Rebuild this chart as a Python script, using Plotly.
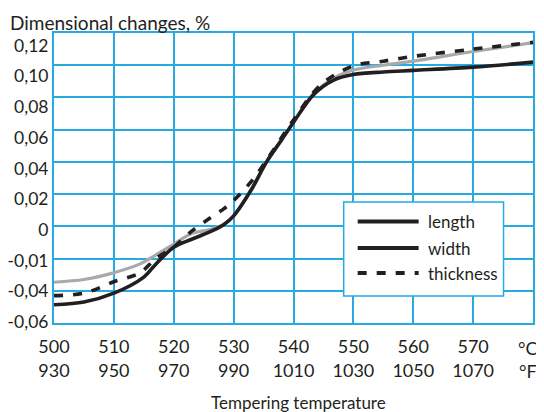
import plotly.graph_objects as go

# Tempering temperature (°C) and dimensional change (%)
length_t = [500, 505, 510, 515, 517, 520, 523, 526, 528.5, 530, 533, 535.5, 538, 540, 543.3, 546.7, 550, 555, 560, 570, 580]
length_v = [-0.0487, -0.0470, -0.0415, -0.0315, -0.0235, -0.0130, -0.0080, -0.0035, 0.0015, 0.0065, 0.0230, 0.0400, 0.0536, 0.0646, 0.0816, 0.0908, 0.0942, 0.0958, 0.0968, 0.0988, 0.1019]

width_t = [500, 505, 509, 514.4, 517, 520, 523, 526, 528.5, 530, 533, 535.5, 538, 540, 543.3, 546.7, 550, 555, 560, 570, 580]
width_v = [-0.0347, -0.0330, -0.0298, -0.0233, -0.0178, -0.0110, -0.0045, -0.0020, 0.0015, 0.0065, 0.0230, 0.0400, 0.0536, 0.0646, 0.0820, 0.0920, 0.0970, 0.1000, 0.1025, 0.1085, 0.1140]

thick_t = [500, 505, 510, 514.4, 517, 520, 523, 526, 528.4, 530, 533, 535.5, 540, 544.5, 550, 555, 560, 570, 580]
thick_v = [-0.0430, -0.0415, -0.0344, -0.0288, -0.0200, -0.0129, -0.0030, 0.0050, 0.0110, 0.0160, 0.0280, 0.0410, 0.0660, 0.0877, 0.0996, 0.1025, 0.1055, 0.1100, 0.1142]

x_ticks = [500, 510, 520, 530, 540, 550, 560, 570, 580]
x_labels = ["500<br>930", "510<br>950", "520<br>970", "530<br>990", "540<br>1010",
            "550<br>1030", "560<br>1050", "570<br>1070", ""]
unit_label = "°C<br>°F"
y_ticks = [0.12, 0.10, 0.08, 0.06, 0.04, 0.02, 0.0, -0.02, -0.04, -0.06]
y_labels = ["0,12", "0,10", "0,08", "0,06", "0,04", "0,02", "0", "-0,01", "-0,04", "-0,06"]

legend_names = ["length", "width", "thickness"]

BLUE = "#27A9E1"
INK = "#231F20"
FONT = "Lato"

fig = go.Figure()
fig.add_trace(go.Scatter(x=width_t, y=width_v, mode="lines", name="width",
                         line=dict(color="#A7A9AC", width=3.2, shape="spline", smoothing=0.9),
                         showlegend=False))
fig.add_trace(go.Scatter(x=thick_t, y=thick_v, mode="lines", name="thickness",
                         line=dict(color=INK, width=3.6, dash="9px,10px", shape="spline", smoothing=0.9),
                         showlegend=False))
fig.add_trace(go.Scatter(x=length_t, y=length_v, mode="lines", name="length",
                         line=dict(color=INK, width=3.6, shape="spline", smoothing=0.9),
                         showlegend=False))
# carrier for the (slightly compressed) label axis of the original print
fig.add_trace(go.Scatter(x=[None], y=[None], yaxis="y2", mode="lines",
                         showlegend=False, hoverinfo="skip"))

# page body has an 8px margin: figure occupies window pixels 8..544 x 8..412
OFF = 8
W, H = 544 - OFF, 412 - OFF
PL, PR, PT, PB = 54, 533.5, 33, 323  # plot area in window pixels
L, R, T, B = PL - OFF, 544 - PR, PT - OFF, 412 - PB
pw, ph = PR - PL, PB - PT

def px(x):
    return (x - PL) / pw

def py(y):
    return (PB - y) / ph

# legend box
shapes = [dict(type="rect", xref="paper", yref="paper",
               x0=px(344), x1=px(504), y0=py(296), y1=py(202),
               line=dict(color=BLUE, width=1.5), fillcolor="white", layer="above")]
rows = [221.5, 248, 273]
dashes = ["solid", "solid", "9px,10px"]
annotations = []
for name, r, d in zip(legend_names, rows, dashes):
    shapes.append(dict(type="line", xref="paper", yref="paper",
                       x0=px(358), x1=px(419), y0=py(r), y1=py(r),
                       line=dict(color=INK, width=4, dash=d), layer="above"))
    annotations.append(dict(xref="paper", yref="paper", x=px(426), y=py(r),
                            text=name, showarrow=False, xanchor="left", yanchor="middle",
                            font=dict(family=FONT, size=17, color=INK)))

annotations.append(dict(xref="paper", yref="paper", x=px(8), y=py(22),
                        text="Dimensional changes, %", showarrow=False,
                        xanchor="left", yanchor="middle",
                        font=dict(family=FONT, size=19, color=INK)))
annotations.append(dict(xref="paper", yref="paper", x=px(299), y=py(402),
                        text="Tempering temperature", showarrow=False,
                        xanchor="center", yanchor="middle",
                        font=dict(family=FONT, size=17, color=INK)))
annotations.append(dict(xref="paper", yref="paper", x=px(541), y=py(359),
                        text=unit_label, showarrow=False, align="center",
                        xanchor="right", yanchor="middle",
                        font=dict(family=FONT, size=18, color=INK)))

# label axis: labels sit at 45.5px (0,12) .. 322px (-0,06) in the print
lab_top, lab_bot = 45.5, 322.0
slope = (0.12 - (-0.06)) / (lab_bot - lab_top)
y2_range = [-0.06 - (PB - lab_bot) * slope, 0.12 + (lab_top - PT) * slope]

fig.update_layout(
    width=W, height=H,
    margin=dict(l=L, r=R, t=T, b=B, pad=0, autoexpand=False),
    paper_bgcolor="white", plot_bgcolor="white",
    font=dict(family=FONT, size=18, color=INK),
    shapes=shapes, annotations=annotations,
    showlegend=False,
    yaxis2=dict(overlaying="y", side="left", range=y2_range,
                tickvals=y_ticks, ticktext=y_labels,
                showgrid=False, showline=False, zeroline=False,
                ticks="outside", ticklen=1, tickcolor="rgba(0,0,0,0)",
                tickfont=dict(family=FONT, size=17.5, color=INK), automargin=False),
)
fig.update_xaxes(range=[500, 580], tickvals=x_ticks, ticktext=x_labels,
                 showgrid=True, gridcolor=BLUE, gridwidth=1.5,
                 showline=True, linecolor=BLUE, linewidth=1.5, mirror=True,
                 ticks="outside", ticklen=7, tickcolor="rgba(0,0,0,0)",
                 zeroline=False, tickfont=dict(size=18), automargin=False)
fig.layout.yaxis.update(range=[-0.06, 0.12], tickvals=y_ticks, showticklabels=False,
                        showgrid=True, gridcolor=BLUE, gridwidth=1.5,
                        showline=True, linecolor=BLUE, linewidth=1.5, mirror=True,
                        ticks="", zeroline=False, automargin=False)

fig.write_html("out.html")
